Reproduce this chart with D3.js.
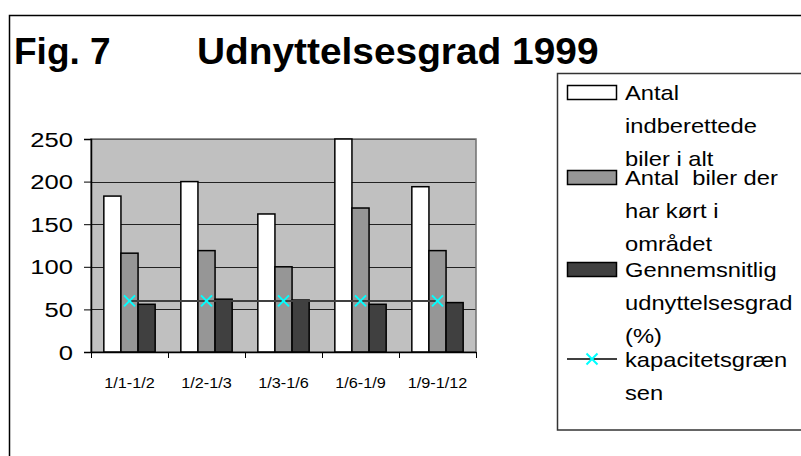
<!DOCTYPE html>
<html>
<head>
<meta charset="utf-8">
<script src="https://cdn.jsdelivr.net/npm/d3@7"></script>
<style>
  body { margin: 0; background: #fff; }
  svg { display: block; font-family: "Liberation Sans", Arial, sans-serif; }
  text { white-space: pre; }
</style>
</head>
<body>
<script>
let width = 801;
let height = 456;

// data
let categories = ["1/1-1/2", "1/2-1/3", "1/3-1/6", "1/6-1/9", "1/9-1/12"];
let indberettede = [183, 200, 162, 250, 194];
let koertIOmraadet = [116, 119, 100, 169, 119];
let udnyttelsesgrad = [56, 62, 61, 56, 58];
let kapacitetsgraense = [60, 60, 60, 60, 60];
let yTicks = [0, 50, 100, 150, 200, 250];

let barSeries = [
  {key: "indberettede", values: indberettede, fill: "#ffffff",
   label: ["Antal", "indberettede", "biler i alt"]},
  {key: "koert", values: koertIOmraadet, fill: "#969696",
   label: ["Antal  biler der", "har kørt i", "området"]},
  {key: "udnyttelse", values: udnyttelsesgrad, fill: "#404040",
   label: ["Gennemsnitlig", "udnyttelsesgrad", "(%)"]}
];
let lineLabel = ["kapacitetsgræn", "sen"];

let svg = d3.select("body").append("svg").attr("width", width).attr("height", height);

// outer frame (runs off the right and bottom of the picture)
svg.append("rect").attr("x", 9.5).attr("y", 15.5).attr("width", 820).attr("height", 460)
  .attr("fill", "none").attr("stroke", "#000").attr("stroke-width", 1.5);

// stretched text helper, the original fonts render a bit wide
let addText = (parent, x, y, str, size, sx, anchor, weight) => {
  return parent.append("text")
    .attr("transform", "translate(" + x + "," + y + ") scale(" + sx + ",1)")
    .attr("font-size", size).attr("font-weight", weight || "normal")
    .attr("text-anchor", anchor || "start").attr("fill", "#000").text(str);
};

addText(svg, 14, 64, "Fig. 7", 37, 1.0, "start", "bold");
addText(svg, 197, 64, "Udnyttelsesgrad 1999", 37, 1.05, "start", "bold");

let plot = {left: 91, right: 476, top: 139, bottom: 352};

let x0 = d3.scaleBand().domain(categories).range([plot.left, plot.right]).paddingInner(0).paddingOuter(0);
let bw = x0.bandwidth();
let gap = bw * 1.5 / 4.5;
let x1 = d3.scaleBand().domain(barSeries.map(s => s.key)).range([gap / 2, bw - gap / 2]).padding(0);
let y = d3.scaleLinear().domain([0, 250]).range([plot.bottom, plot.top]);

let g = svg.append("g");

g.append("rect").attr("x", plot.left).attr("y", plot.top)
  .attr("width", plot.right - plot.left).attr("height", plot.bottom - plot.top)
  .attr("fill", "#c0c0c0");

// gridlines
g.selectAll(".grid").data(yTicks.filter(t => t > 0)).enter().append("line")
  .attr("class", "grid")
  .attr("x1", plot.left).attr("x2", plot.right)
  .attr("y1", d => Math.round(y(d)) + 0.5).attr("y2", d => Math.round(y(d)) + 0.5)
  .attr("stroke", "#222").attr("stroke-width", 1);

// plot border
g.append("rect").attr("x", plot.left).attr("y", plot.top)
  .attr("width", plot.right - plot.left).attr("height", plot.bottom - plot.top)
  .attr("fill", "none").attr("stroke", "#707070").attr("stroke-width", 1.5);

// bars
barSeries.forEach(s => {
  g.selectAll(".bar-" + s.key).data(s.values).enter().append("rect")
    .attr("class", "bar-" + s.key)
    .attr("x", (d, i) => x0(categories[i]) + x1(s.key))
    .attr("y", d => y(d))
    .attr("width", x1.bandwidth())
    .attr("height", d => y(0) - y(d))
    .attr("fill", s.fill).attr("stroke", "#000").attr("stroke-width", 1.5);
});

// axes
let yAxis = g.append("g").attr("transform", "translate(" + plot.left + ",0)")
  .call(d3.axisLeft(y).tickValues(yTicks).tickSize(7).tickFormat(""));
yAxis.select(".domain").attr("stroke", "#000").attr("stroke-width", 1.5);
yAxis.selectAll(".tick line").attr("stroke", "#000").attr("stroke-width", 1);
yTicks.forEach(t => addText(g, 73, y(t) + 7.5, String(t), 20, 1.28, "end"));

let xAxis = g.append("g").attr("transform", "translate(0," + plot.bottom + ")")
  .call(d3.axisBottom(x0).tickSize(0).tickFormat(""));
xAxis.select(".domain").attr("stroke", "#000").attr("stroke-width", 1.5);
let boundaries = categories.map(c => x0(c)).concat([plot.right]);
g.selectAll(".xtick").data(boundaries).enter().append("line")
  .attr("class", "xtick")
  .attr("x1", d => Math.round(d) + 0.5).attr("x2", d => Math.round(d) + 0.5)
  .attr("y1", plot.bottom).attr("y2", plot.bottom + 6)
  .attr("stroke", "#000").attr("stroke-width", 1);
categories.forEach(c => addText(g, x0(c) + bw / 2, 388, c, 14.5, 1.12, "middle"));

// capacity line
let cx = (d, i) => x0(categories[i]) + bw / 2;
let lineFunc = d3.line().x(cx).y(d => y(d));
g.append("path").datum(kapacitetsgraense).attr("d", lineFunc)
  .attr("fill", "none").attr("stroke", "#404040").attr("stroke-width", 2);

let cross = (sel, px, py) => {
  let r = 5.5;
  sel.append("path")
    .attr("d", "M" + (px - r) + "," + (py - r) + "L" + (px + r) + "," + (py + r) +
               "M" + (px - r) + "," + (py + r) + "L" + (px + r) + "," + (py - r))
    .attr("stroke", "#00ffff").attr("stroke-width", 2).attr("fill", "none");
};
kapacitetsgraense.forEach((d, i) => cross(g, cx(d, i), y(d)));

// legend
let legend = svg.append("g");
legend.append("rect").attr("x", 557.5).attr("y", 73.5).attr("width", 300).attr("height", 356.5)
  .attr("fill", "#fff").attr("stroke", "#333").attr("stroke-width", 1.5);

let lineH = 33;
let entryStarts = [100, 185, 277, 367];
barSeries.forEach((s, k) => {
  let base = entryStarts[k];
  legend.append("rect").attr("x", 567.5).attr("y", base - 14.5).attr("width", 49).attr("height", 14)
    .attr("fill", s.fill).attr("stroke", "#000").attr("stroke-width", 1.5);
  s.label.forEach((t, j) => addText(legend, 625, base + j * lineH, t, 21, 1.13, "start"));
});
let lb = entryStarts[3];
legend.append("line").attr("x1", 567).attr("x2", 617).attr("y1", lb - 8).attr("y2", lb - 8)
  .attr("stroke", "#404040").attr("stroke-width", 2);
cross(legend, 592, lb - 8);
lineLabel.forEach((t, j) => addText(legend, 625, lb + j * lineH, t, 21, 1.13, "start"));
</script>
</body>
</html>
